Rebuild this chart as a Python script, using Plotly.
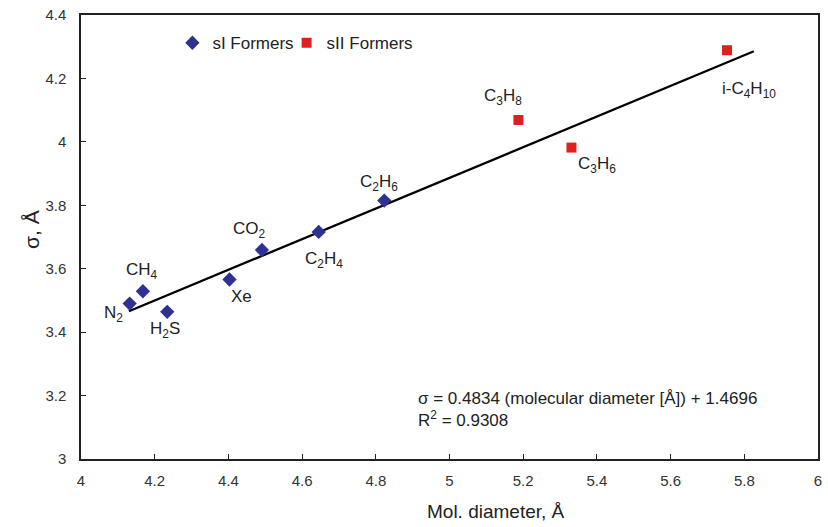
import plotly.graph_objects as go

# Hydrate formers: molecular diameter (Å) vs. Kihara sigma (Å)
si_names = ["N<sub>2</sub>", "CH<sub>4</sub>", "H<sub>2</sub>S", "Xe", "CO<sub>2</sub>",
            "C<sub>2</sub>H<sub>4</sub>", "C<sub>2</sub>H<sub>6</sub>"]
si_diam = [4.132, 4.168, 4.234, 4.403, 4.491, 4.645, 4.823]
si_sigma = [3.490, 3.529, 3.464, 3.566, 3.659, 3.716, 3.815]

sii_names = ["C<sub>3</sub>H<sub>8</sub>", "C<sub>3</sub>H<sub>6</sub>", "i-C<sub>4</sub>H<sub>10</sub>"]
sii_diam = [5.187, 5.331, 5.753]
sii_sigma = [4.069, 3.982, 4.289]

# Linear fit: sigma = slope * diameter + intercept
slope = 0.4834
intercept = 1.4696
r_squared = 0.9308
fit_x = [4.13, 5.826]
fit_y = [slope * v + intercept for v in fit_x]

x_ticks = [4, 4.2, 4.4, 4.6, 4.8, 5, 5.2, 5.4, 5.6, 5.8, 6]
y_ticks = [3, 3.2, 3.4, 3.6, 3.8, 4, 4.2, 4.4]

# label offsets in pixels (dx, dy) relative to each marker
si_offsets = [(-16, 10), (-1, -20), (-2, 18), (12, 17), (-12, -20), (5, 28), (-5, -18)]
sii_offsets = [(-15, -23), (26, 17), (22, 40)]

FONT = "Liberation Sans, Arial, sans-serif"
BLUE = "#2e3192"
RED = "#e0201f"
INK = "#222"

fig = go.Figure()
fig.add_trace(go.Scatter(x=fit_x, y=fit_y, mode="lines",
                         line=dict(color="black", width=2.3),
                         showlegend=False, hoverinfo="skip"))
fig.add_trace(go.Scatter(x=si_diam, y=si_sigma, mode="markers", name="sI Formers",
                         legend="legend",
                         marker=dict(symbol="diamond", size=11, color=BLUE)))
fig.add_trace(go.Scatter(x=sii_diam, y=sii_sigma, mode="markers", name="sII Formers",
                         legend="legend2",
                         marker=dict(symbol="square", size=10, color=RED)))

for names, xs, ys, offs in [(si_names, si_diam, si_sigma, si_offsets),
                            (sii_names, sii_diam, sii_sigma, sii_offsets)]:
    for n, xv, yv, (dx, dy) in zip(names, xs, ys, offs):
        fig.add_annotation(x=xv, y=yv, text=n, showarrow=False,
                           xshift=dx, yshift=-dy,
                           font=dict(family=FONT, size=17, color=INK))

fig.add_annotation(x=4.91, y=3.228, xanchor="left", yanchor="top", align="left",
                   showarrow=False,
                   text=f"σ = {slope} (molecular diameter [Å]) + {intercept}<br>"
                        f"R<sup>2</sup> = {r_squared}",
                   font=dict(family=FONT, size=17, color=INK))

# axis titles
fig.add_annotation(xref="paper", yref="paper", x=0.563, y=-0.118,
                   xanchor="center", yanchor="middle", showarrow=False,
                   text="Mol. diameter, Å",
                   font=dict(family=FONT, size=19, color=INK))
fig.add_annotation(xref="paper", yref="paper", x=-0.068, y=0.518,
                   xanchor="center", yanchor="middle", showarrow=False,
                   textangle=-90, text="σ, Å",
                   font=dict(family=FONT, size=21, color=INK))

axis_common = dict(showline=True, linecolor=INK, linewidth=1.5, mirror=True,
                   ticks="inside", ticklen=5, tickcolor=INK, showgrid=False,
                   zeroline=False, tickfont=dict(family=FONT, size=15, color="#333"))

fig.update_xaxes(range=[4, 6], tickvals=x_ticks, ticktext=[f"{v:g}" for v in x_ticks],
                 ticklabelstandoff=7, **axis_common)
fig.update_yaxes(range=[3, 4.4], tickvals=y_ticks, ticktext=[f"{v:g}" for v in y_ticks],
                 ticklabelstandoff=10, **axis_common)

legend_common = dict(orientation="h", y=0.977, xanchor="left", yanchor="top",
                     itemwidth=30, font=dict(family=FONT, size=17, color=INK),
                     bgcolor="rgba(0,0,0,0)")

fig.update_layout(
    width=828, height=527,
    margin=dict(l=81, r=6, t=12, b=68),
    plot_bgcolor="white", paper_bgcolor="white",
    legend=dict(x=0.124, **legend_common),
    legend2=dict(x=0.279, **legend_common),
)

fig.write_html("out.html")
